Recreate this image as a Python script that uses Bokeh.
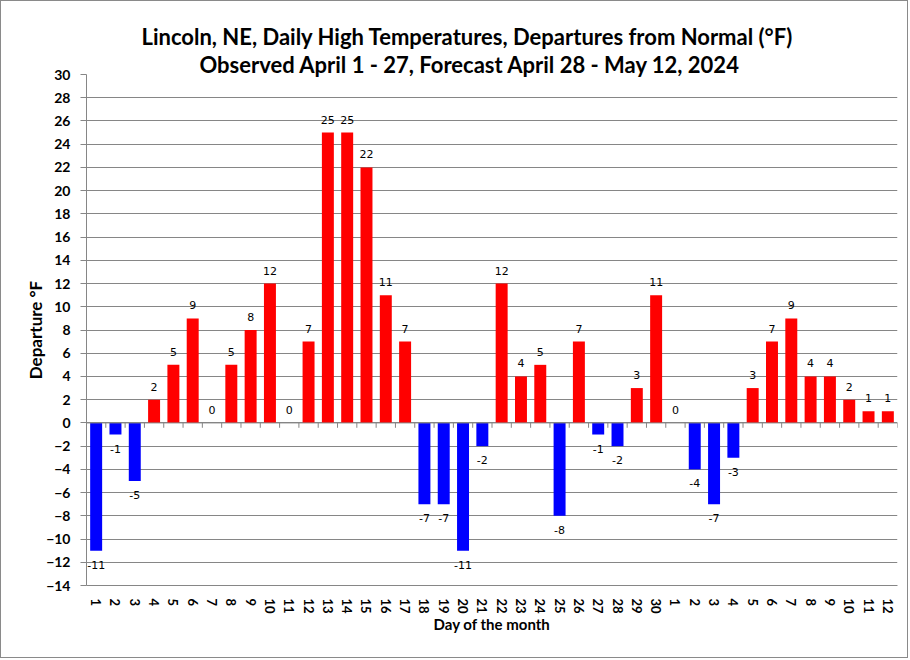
import math
from bokeh.plotting import figure
from bokeh.models import ColumnDataSource, FixedTicker, Title, Span
from bokeh.core.properties import value
from bokeh.embed import file_html
from bokeh.resources import INLINE

# ---- data ----
day_labels = ["1", "2", "3", "4", "5", "6", "7", "8", "9", "10",
              "11", "12", "13", "14", "15", "16", "17", "18", "19", "20",
              "21", "22", "23", "24", "25", "26", "27", "28", "29", "30",
              "1", "2", "3", "4", "5", "6", "7", "8", "9", "10", "11", "12"]
departures = [-11, -1, -5, 2, 5, 9, 0, 5, 8, 12,
              0, 7, 25, 25, 22, 11, 7, -7, -7, -11,
              -2, 12, 4, 5, -8, 7, -1, -2, 3, 11,
              0, -4, -7, -3, 3, 7, 9, 4, 4, 2, 1, 1]
y_ticks = list(range(-14, 31, 2))
title_line1 = "Lincoln, NE, Daily High Temperatures, Departures from Normal (°F)"
title_line2 = "Observed April 1 - 27, Forecast April 28 - May 12, 2024"

xs = list(range(1, len(departures) + 1))
colors = ["#FF0000" if v >= 0 else "#0000FF" for v in departures]
src = ColumnDataSource(dict(x=xs, top=departures, color=colors))
pos_idx = [i for i, v in enumerate(departures) if v >= 0]
neg_idx = [i for i, v in enumerate(departures) if v < 0]
pos_src = ColumnDataSource(dict(x=[xs[i] for i in pos_idx],
                                y=[departures[i] for i in pos_idx],
                                lab=[str(departures[i]) for i in pos_idx]))
neg_src = ColumnDataSource(dict(x=[xs[i] for i in neg_idx],
                                y=[departures[i] for i in neg_idx],
                                lab=[str(departures[i]) for i in neg_idx]))

GRAY = "#868686"
FONT = "Lato"

p = figure(width=908, height=658, output_backend="svg", toolbar_location=None,
           x_range=(0.5, len(xs) + 0.5), y_range=(y_ticks[0], y_ticks[-1]),
           min_border_left=85, min_border_right=12, min_border_bottom=74,
           min_border_top=73)
p.styles = {"border": "1px solid #8a8a8a"}

p.add_layout(Title(text=title_line2, align="left", offset=113, standoff=-7,
                   text_font=FONT, text_font_size="22px",
                   text_font_style="bold", text_color="#000000"), "above")
p.add_layout(Title(text=title_line1, align="left", offset=55, standoff=5,
                   text_font=FONT, text_font_size="22px",
                   text_font_style="bold", text_color="#000000"), "above")

p.vbar(x="x", top="top", bottom=0, width=0.62, color="color", source=src,
       line_color=None)

p.add_layout(Span(location=0, dimension="width", line_color=GRAY, line_width=1))
# category tick marks on the zero line
bounds = [x + 0.5 for x in [0] + xs]
p.segment(x0=bounds, x1=bounds, y0=[0] * len(bounds), y1=[-0.42] * len(bounds),
          line_color=GRAY, line_width=1)

p.text(x="x", y="y", text="lab", source=pos_src, text_align="center",
       text_baseline="bottom", y_offset=-9, text_font=value("DejaVu Sans"),
       text_font_size="11px", text_color="#000000")
p.text(x="x", y="y", text="lab", source=neg_src, text_align="center",
       text_baseline="top", y_offset=10, text_font=value("DejaVu Sans"),
       text_font_size="11px", text_color="#000000")

# axes
p.yaxis.ticker = FixedTicker(ticks=y_ticks)
p.yaxis.minor_tick_line_color = None
p.yaxis.axis_line_color = GRAY
p.yaxis.major_tick_line_color = GRAY
p.yaxis.major_tick_in = 0
p.yaxis.major_tick_out = 6
p.yaxis.major_label_text_font = FONT
p.yaxis.major_label_text_font_style = "bold"
p.yaxis.major_label_text_font_size = "14px"
p.yaxis.major_label_text_color = "#000000"
p.yaxis.major_label_standoff = 10
p.yaxis.axis_label = "Departure °F"
p.yaxis.axis_label_text_font = FONT
p.yaxis.axis_label_text_font_style = "bold"
p.yaxis.axis_label_text_font_size = "17px"
p.yaxis.axis_label_text_color = "#000000"
p.yaxis.axis_label_standoff = -3

p.xaxis.ticker = FixedTicker(ticks=xs)
p.xaxis.major_label_overrides = {x: l for x, l in zip(xs, day_labels)}
p.xaxis.major_label_orientation = -math.pi / 2
p.xaxis.minor_tick_line_color = None
p.xaxis.major_tick_line_color = None
p.xaxis.axis_line_color = GRAY
p.xaxis.major_label_text_font = FONT
p.xaxis.major_label_text_font_style = "bold"
p.xaxis.major_label_text_font_size = "13px"
p.xaxis.major_label_text_color = "#000000"
p.xaxis.major_label_standoff = 7
p.xaxis.axis_label = "Day of the month"
p.xaxis.axis_label_text_font = FONT
p.xaxis.axis_label_text_font_style = "bold"
p.xaxis.axis_label_text_font_size = "15px"
p.xaxis.axis_label_text_color = "#000000"
p.xaxis.axis_label_standoff = -2

p.xgrid.grid_line_color = None
p.ygrid.grid_line_color = GRAY
p.ygrid.grid_line_width = 1
p.outline_line_color = None

open("out.html", "w").write(file_html(p, INLINE))
